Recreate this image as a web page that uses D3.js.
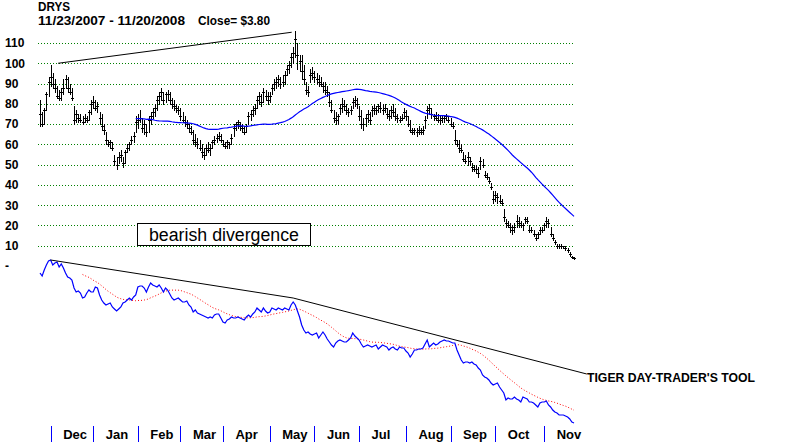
<!DOCTYPE html>
<html><head><meta charset="utf-8">
<script src="https://cdn.jsdelivr.net/npm/d3@7/dist/d3.min.js"></script>
<style>
html,body{margin:0;padding:0;background:#fff;}
svg{display:block;font-family:"Liberation Sans",Arial,sans-serif;}
</style></head>
<body>
<svg id="chart" width="800" height="442"></svg>
<script>
// ---------------- DATA ----------------
const ticker = "DRYS";
const dateRange = "11/23/2007 - 11/20/2008";
const closeLabel = "Close= $3.80";
const yTickValues = [0,10,20,30,40,50,60,70,80,90,100,110];
const yTickLabels = ["-","10","20","30","40","50","60","70","80","90","100","110"];
const months = ["Dec","Jan","Feb","Mar","Apr","May","Jun","Jul","Aug","Sep","Oct","Nov"];
const monthStartDay = [6,26,47,67,87,109,130,151,173,194,215,238];

const highs = [82,76,78,86,93,99,95,92,89,87, 88,92,94,93,90,88,79,77,75,75,
 74,75,74,77,82,84,82,81,76,75, 70,66,62,62,61,55,54,56,57,54,
 57,60,61,64,66,74,75,77,73,72, 70,74,76,78,80,84,86,88,86,86,
 87,86,83,82,80,79,78,76,74,72, 70,69,67,65,63,62,60,58,60,61,
 60,62,64,65,66,65,62,61,62,61, 65,70,71,72,71,70,69,70,76,77,
 79,80,84,86,85,88,87,86,86,90, 92,93,94,93,94,96,99,101,105,108,
 116,110,104,104,99,91,89,97,98,96, 95,94,93,91,91,89,86,82,77,76,
 75,80,83,82,80,78,79,83,84,83, 79,77,73,75,77,76,79,80,79,80,
 81,80,80,78,77,79,80,78,75,74, 75,78,77,74,72,68,68,68,69,68,
 69,74,79,80,78,75,76,75,74,74, 74,75,74,73,71,67,62,62,60,56,
 55,56,54,51,50,50,49,54,53,47, 46,44,41,37,37,36,35,33,28,23,
 22,21,20,21,25,24,22,21,24,24, 20,19,18,16,17,19,19,21,24,23,
 19,16,13,11,11,11,10,10,9,7, 5,4.5];
const lows = [69,69,70,77,84,89,88,86,83,82, 82,85,88,86,85,82,70,71,71,71,
 70,71,71,72,75,78,77,76,70,67, 65,60,59,58,57,50,48,51,52,49,
 51,56,57,60,61,66,68,71,66,65, 64,66,70,73,74,77,80,82,80,81,
 82,80,78,77,76,75,72,71,69,68, 66,65,60,59,58,57,54,53,55,56,
 55,58,60,61,62,61,59,58,58,58, 60,64,67,68,67,66,65,66,70,72,
 74,75,78,80,79,81,82,80,81,85, 87,88,89,88,89,90,94,95,98,100,
 103,97,96,92,90,85,84,91,92,91, 90,89,89,86,85,84,79,76,71,70,
 70,75,76,77,75,74,75,78,79,78, 72,68,67,69,71,70,74,75,75,76,
 76,75,76,73,72,73,74,72,71,71, 72,73,72,69,66,65,65,64,65,65,
 65,68,73,75,73,72,72,71,70,71, 71,72,71,69,68,60,59,56,56,52,
 51,50,50,47,47,46,44,48,49,44, 43,41,38,31,32,31,31,30,22,19,
 19,17,16,17,19,19,19,18,21,21, 17,17,15,13,14,16,17,18,19,19,
 15,13,11,9,9,9,9,8,7,5, 4,3.6];
const closes = [75,70,77,85,91,93,90,88,84,83, 86,88,92,88,86,83,72,75,73,72,
 71,73,72,76,80,81,78,79,73,69, 67,62,60,61,58,52,50,54,55,51,
 56,58,60,62,64,71,72,73,68,70, 66,72,74,76,78,82,84,86,82,85,
 85,82,80,79,78,77,74,72,71,70, 68,66,62,61,60,58,56,55,58,57,
 58,61,62,63,64,62,60,59,61,60, 63,68,70,71,69,68,66,69,74,75,
 77,78,82,84,81,86,84,82,84,88, 90,91,92,90,91,94,97,99,103,105,
 112,104,101,96,92,87,86,94,95,93, 92,91,90,89,87,86,81,77,73,72,
 74,78,80,79,77,76,77,81,82,80, 74,70,70,73,75,72,77,78,77,79,
 78,77,78,75,74,77,76,74,73,72, 73,76,74,70,67,66,67,66,67,66,
 67,72,77,78,75,74,73,72,72,73, 73,74,72,70,69,62,60,58,57,53,
 52,54,52,49,48,48,46,52,50,45, 44,42,39,33,35,34,32,31,24,21,
 20,19,18,19,22,21,20,20,23,22, 18,18,16,14,16,18,18,20,22,21,
 16,14,12,10,10,10,10,9,8,6, 4.5,3.8];

// lower panel: TIGER day-trader's tool line (arbitrary units)
const tigerTool = [157,154,160,165,169,170,165,167,168,163, 166,162,157,153,152,150,142,138,139,137,
 132,133,137,140,138,138,143,142,135,130, 127,125,126,127,123,121,119,121,123,127,
 128,130,132,130,133,135,143,144,144,142, 138,143,147,145,144,143,145,142,138,142,
 140,136,132,130,131,132,130,128,128,129, 125,123,118,120,117,116,115,114,113,112,
 113,112,115,116,116,112,108,107,110,111, 113,112,112,113,112,111,110,113,115,113,
 116,118,122,120,118,122,119,117,118,122, 121,120,122,121,120,122,121,120,125,128,
 125,119,113,105,100,97,98,96,95,96, 97,92,95,98,95,91,88,85,83,87,
 89,90,89,88,88,90,92,97,94,92, 90,86,83,84,85,84,83,84,85,81,
 83,85,84,83,80,82,83,81,80,83, 82,82,79,77,73,76,80,80,81,81,
 82,86,90,83,85,87,85,86,88,89, 90,89,89,88,87,87,80,75,70,67,
 68,68,67,68,66,65,62,60,55,53, 52,50,47,45,46,47,43,40,37,30,
 32,31,31,33,31,30,28,33,32,31, 28,28,27,25,23,27,28,28,29,25,
 23,20,18,17,15,15,15,14,13,11, 8,7];

// trendline annotations [day, value]
const priceTrend = [[8.5,100],[118.3,115.3]];
const toolTrend = [[5,170],[119,132],[257,56]];
const annotation = "bearish divergence";
const toolLabel = "TIGER DAY-TRADER'S TOOL";
const priceMAPeriod = 50, priceMAStart = 45;
const toolMAPeriod = 21;

// ---------------- DRAW ----------------
const svg = d3.select("#chart");
const n = closes.length;
const x = d3.scaleLinear().domain([0, n-1]).range([40, 574]);
const y = d3.scaleLinear().domain([0, 110]).range([266, 43]);
const yT = d3.scaleLinear().domain([0, 170]).range([430, 260]);
const px = v => Math.round(v) + 0.5;

// titles
svg.append("text").attr("x",38).attr("y",11).attr("font-size",12).attr("font-weight","bold")
  .attr("textLength",32).attr("lengthAdjust","spacingAndGlyphs").text(ticker);
svg.append("text").attr("x",38).attr("y",25).attr("font-size",12).attr("font-weight","bold")
  .attr("textLength",147).attr("lengthAdjust","spacingAndGlyphs").text(dateRange);
svg.append("text").attr("x",198).attr("y",25).attr("font-size",12).attr("font-weight","bold")
  .attr("textLength",72).attr("lengthAdjust","spacingAndGlyphs").text(closeLabel);

// gridlines
svg.append("g").selectAll("line").data(yTickValues.filter(v => v > 0)).join("line")
  .attr("x1",38).attr("x2",575).attr("y1",d=>px(y(d))).attr("y2",d=>px(y(d)))
  .attr("stroke","#008000").attr("stroke-width",1).attr("stroke-dasharray","1,2");

// y axis labels
const yAxis = d3.axisLeft(y).tickValues(yTickValues).tickSize(0)
  .tickFormat((d,i) => yTickLabels[i]);
const gy = svg.append("g").attr("transform","translate(5,0)").call(yAxis);
gy.select(".domain").remove();
gy.selectAll("text").attr("x",0).attr("text-anchor","start").attr("fill","#000")
  .attr("font-size",12).attr("font-weight","bold").attr("font-family","'Liberation Sans',Arial,sans-serif");

// OHLC bars
const bars = svg.append("g").attr("stroke","#000").attr("stroke-width",1).attr("shape-rendering","crispEdges");
bars.selectAll("line.hl").data(closes).join("line").attr("class","hl")
  .attr("x1",(d,i)=>px(x(i))).attr("x2",(d,i)=>px(x(i)))
  .attr("y1",(d,i)=>Math.round(y(highs[i]))).attr("y2",(d,i)=>Math.round(y(lows[i]))+1);
bars.selectAll("line.cl").data(closes).join("line").attr("class","cl")
  .attr("x1",(d,i)=>Math.round(x(i))-1).attr("x2",(d,i)=>Math.round(x(i))+2)
  .attr("y1",d=>px(y(d))).attr("y2",d=>px(y(d)));

// price moving average
const ma = [];
for (let i = priceMAStart; i < n; i++) {
  const s = Math.max(0, i - priceMAPeriod + 1);
  ma.push([i, d3.mean(closes.slice(s, i+1))]);
}
svg.append("path").datum(ma).attr("fill","none").attr("stroke","#0000ff").attr("stroke-width",1.2)
  .attr("d", d3.line().x(d=>x(d[0])).y(d=>y(d[1])));

// price trendline
svg.append("path").datum(priceTrend).attr("fill","none").attr("stroke","#000").attr("stroke-width",1)
  .attr("d", d3.line().x(d=>x(d[0])).y(d=>y(d[1])));

// annotation box
const box = svg.append("g");
box.append("rect").attr("x",137.5).attr("y",223.5).attr("width",173).attr("height",22)
  .attr("fill","#fff").attr("stroke","#000").attr("stroke-width",1);
box.append("text").attr("x",224).attr("y",241).attr("text-anchor","middle").attr("font-size",18)
  .attr("textLength",150).attr("lengthAdjust","spacingAndGlyphs").text(annotation);

// lower panel
const toolMA = [];
for (let i = toolMAPeriod - 1; i < n; i++) toolMA.push([i, d3.mean(tigerTool.slice(i-toolMAPeriod+1, i+1))]);
svg.append("path").datum(toolMA).attr("fill","none").attr("stroke","#ff0000").attr("stroke-width",1)
  .attr("stroke-dasharray","1,2").attr("d", d3.line().x(d=>x(d[0])).y(d=>yT(d[1])));
svg.append("path").datum(tigerTool).attr("fill","none").attr("stroke","#0000ff").attr("stroke-width",1.2)
  .attr("d", d3.line().x((d,i)=>x(i)).y(d=>yT(d)));
svg.append("path").datum(toolTrend).attr("fill","none").attr("stroke","#000").attr("stroke-width",1)
  .attr("d", d3.line().x(d=>x(d[0])).y(d=>yT(d[1])));
svg.append("text").attr("x",587).attr("y",382).attr("font-size",12).attr("font-weight","bold")
  .attr("textLength",168).attr("lengthAdjust","spacingAndGlyphs").text(toolLabel);

// month axis
const xAxis = d3.axisBottom(x).tickValues(monthStartDay.map(d=>d-1)).tickSize(16)
  .tickFormat((d,i)=>months[i]);
const gx = svg.append("g").attr("transform","translate(0,426)").call(xAxis);
gx.select(".domain").remove();
gx.selectAll(".tick line").attr("stroke","#0000ff").attr("shape-rendering","crispEdges");
gx.selectAll(".tick text").attr("x",12).attr("y",13).attr("dy",0).attr("text-anchor","start")
  .attr("fill","#000").attr("font-size",13).attr("font-weight","bold")
  .attr("font-family","'Liberation Sans',Arial,sans-serif");
</script>
</body></html>
